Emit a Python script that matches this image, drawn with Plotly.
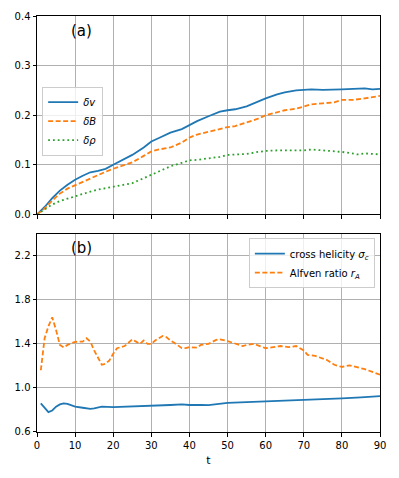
import plotly.graph_objects as go
from plotly.subplots import make_subplots

# panel (a): fluctuation amplitudes
t_a = [0, 2, 4, 6, 8, 10, 12, 14, 16, 18, 20, 22, 25, 28, 30, 32, 35, 38, 40, 42,
       45, 48, 50, 52, 55, 58, 60, 63, 65, 68, 70, 72, 75, 78, 80, 83, 86, 88, 90]
dv = [0, 0.015, 0.033, 0.048, 0.06, 0.07, 0.078, 0.085, 0.088, 0.092, 0.1, 0.108, 0.12,
      0.135, 0.147, 0.154, 0.165, 0.172, 0.18, 0.188, 0.198, 0.207, 0.21, 0.212, 0.218,
      0.228, 0.234, 0.242, 0.246, 0.25, 0.251, 0.252, 0.251, 0.251, 0.252, 0.253, 0.254,
      0.252, 0.253]
dB = [0, 0.012, 0.028, 0.042, 0.052, 0.059, 0.066, 0.073, 0.08, 0.086, 0.092, 0.097,
      0.105, 0.118, 0.127, 0.131, 0.135, 0.145, 0.155, 0.161, 0.167, 0.172, 0.176, 0.178,
      0.185, 0.193, 0.2, 0.206, 0.21, 0.213, 0.218, 0.222, 0.224, 0.226, 0.231, 0.231,
      0.234, 0.236, 0.239]
drho_t = [0, 2, 4, 6, 8, 10, 12, 14, 16, 18, 20, 22, 25, 28, 30, 32, 35, 38, 40, 42, 45,
          48, 50, 53, 55, 58, 60, 63, 65, 68, 70, 72, 74, 76, 78, 80, 82, 84, 86, 88, 90]
drho = [0, 0.01, 0.02, 0.027, 0.032, 0.036, 0.041, 0.046, 0.05, 0.053, 0.056, 0.058,
        0.063, 0.073, 0.08, 0.088, 0.097, 0.104, 0.109, 0.11, 0.113, 0.116, 0.12, 0.121,
        0.122, 0.126, 0.128, 0.129, 0.129, 0.13, 0.129, 0.131, 0.13, 0.128, 0.128, 0.126,
        0.124, 0.121, 0.123, 0.122, 0.121]

# panel (b): cross helicity and Alfven ratio
t_rA = [1, 2, 3, 4, 5, 6, 7, 8, 10, 12, 13, 14, 15, 16, 17, 18, 19, 20, 21, 23, 25, 26,
        27, 28, 29, 30, 31, 33, 34, 35, 36, 38, 39, 40, 42, 43, 45, 47, 48, 50, 52, 54,
        55, 57, 58, 60, 62, 64, 66, 68, 70, 71, 73, 75, 76, 78, 80, 82, 84, 86, 88, 90]
rA = [1.16, 1.45, 1.56, 1.64, 1.525, 1.39, 1.367, 1.39, 1.418, 1.42, 1.45, 1.42, 1.34,
      1.27, 1.21, 1.22, 1.25, 1.31, 1.36, 1.38, 1.44, 1.42, 1.40, 1.43, 1.40, 1.40, 1.43,
      1.47, 1.46, 1.43, 1.41, 1.36, 1.36, 1.37, 1.365, 1.39, 1.40, 1.435, 1.44, 1.425,
      1.40, 1.38, 1.39, 1.40, 1.385, 1.36, 1.37, 1.38, 1.37, 1.38, 1.34, 1.30, 1.29, 1.27,
      1.255, 1.21, 1.19, 1.205, 1.19, 1.17, 1.145, 1.12]
t_sc = [1, 2, 3, 4, 5, 6, 7, 8, 9, 10, 12, 14, 15, 17, 20, 25, 30, 32, 35, 38, 40, 43,
        45, 50, 55, 60, 65, 70, 75, 80, 85, 90]
sc = [0.86, 0.815, 0.78, 0.795, 0.83, 0.85, 0.86, 0.855, 0.84, 0.83, 0.82, 0.81, 0.815,
      0.83, 0.825, 0.83, 0.84, 0.838, 0.845, 0.85, 0.845, 0.845, 0.843, 0.864, 0.87, 0.88,
      0.886, 0.89, 0.895, 0.905, 0.915, 0.925]

blue, orange, green = "#1f77b4", "#ff7f0e", "#2ca02c"
font = "DejaVu Sans"

fig = make_subplots(rows=2, cols=1, vertical_spacing=0.046)

fig.add_trace(go.Scatter(x=t_a, y=dv, mode="lines", name="<i>δv</i>",
                         line=dict(color=blue, width=1.8), legend="legend"), row=1, col=1)
fig.add_trace(go.Scatter(x=t_a, y=dB, mode="lines", name="<i>δB</i>",
                         line=dict(color=orange, width=1.8, dash="5px,2.5px"),
                         legend="legend"), row=1, col=1)
fig.add_trace(go.Scatter(x=drho_t, y=drho, mode="lines", name="<i>δρ</i>",
                         line=dict(color=green, width=1.8, dash="1.8px,3px"),
                         legend="legend"), row=1, col=1)

fig.add_trace(go.Scatter(x=t_sc, y=sc, mode="lines",
                         name="cross helicity <i>σ</i><sub><i>c</i></sub>",
                         line=dict(color=blue, width=1.8), legend="legend2"), row=2, col=1)
fig.add_trace(go.Scatter(x=t_rA, y=rA, mode="lines",
                         name="Alfven ratio <i>r</i><sub><i>A</i></sub>",
                         line=dict(color=orange, width=1.8, dash="5px,2.5px"),
                         legend="legend2"), row=2, col=1)

axis_style = dict(showgrid=True, gridcolor="#b0b0b0", gridwidth=0.8, showline=True,
                  linecolor="black", linewidth=1, mirror=True, ticks="outside",
                  ticklen=3.5, tickcolor="black", zeroline=False, automargin=False,
                  tickfont=dict(family=font, size=10, color="black"))

fig.update_xaxes(range=[0, 90], dtick=10, tick0=0, **axis_style)
fig.update_xaxes(showticklabels=False, row=1, col=1)
fig.update_xaxes(title=dict(text="t", font=dict(family=font, size=11, color="black"),
                            standoff=6), row=2, col=1)
fig.update_yaxes(**axis_style)
fig.update_yaxes(range=[0, 0.4], dtick=0.1, tickformat=".1f", row=1, col=1)
fig.update_yaxes(range=[0.6, 2.4], tickvals=[0.6, 1.0, 1.4, 1.8, 2.2], tickformat=".1f",
                 row=2, col=1)

fig.add_annotation(x=0.13, y=0.964, xref="paper", yref="paper", text="(a)",
                   xanchor="center", yanchor="middle", showarrow=False,
                   font=dict(family=font, size=15, color="black"))
fig.add_annotation(x=0.13, y=0.442, xref="paper", yref="paper", text="(b)",
                   xanchor="center", yanchor="middle", showarrow=False,
                   font=dict(family=font, size=15, color="black"))

legend_style = dict(bgcolor="rgba(255,255,255,0.8)", bordercolor="#cccccc", borderwidth=1,
                    font=dict(family=font, size=10, color="black"), tracegroupgap=0,
                    itemwidth=30)

# the page body adds an 8px margin, so the figure is 8px smaller and margins shifted
fig.update_layout(
    width=391, height=470,
    margin=dict(l=29, r=19, t=8, b=46),
    paper_bgcolor="white", plot_bgcolor="white",
    font=dict(family=font, size=10, color="black"),
    legend=dict(x=0.015, y=0.83, xanchor="left", yanchor="top", **legend_style),
    legend2=dict(x=0.985, y=0.466, xanchor="right", yanchor="top", **legend_style),
)

fig.write_html("out.html")
